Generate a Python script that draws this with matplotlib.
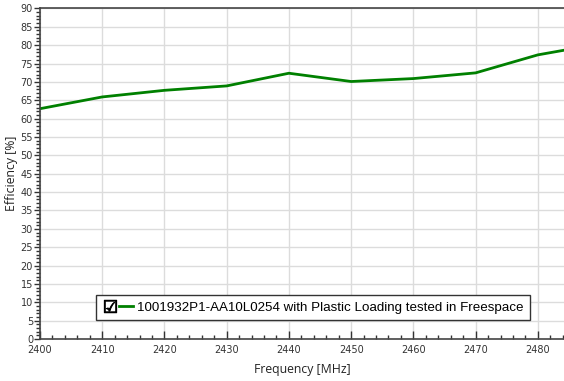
import matplotlib
matplotlib.use("Agg")
import matplotlib.pyplot as plt
from matplotlib.lines import Line2D
from matplotlib.legend_handler import HandlerTuple
from matplotlib.ticker import MultipleLocator

# efficiency vs frequency
freq = [2400, 2410, 2420, 2430, 2440, 2450, 2460, 2470, 2480, 2485]
eff = [62.7, 65.9, 67.7, 68.9, 72.35, 70.1, 70.9, 72.45, 77.35, 78.85]

series_name = "1001932P1-AA10L0254 with Plastic Loading tested in Freespace"

fig = plt.figure(figsize=(5.64, 3.81), dpi=100)
ax = fig.add_axes([0.0709, 0.110, 0.9291, 0.868])

line, = ax.plot(freq, eff, color="#008000", linewidth=2)

ax.set_xlim(2400, 2484.2)
ax.set_ylim(0, 90)

ax.xaxis.set_major_locator(MultipleLocator(10))
ax.xaxis.set_minor_locator(MultipleLocator(2))
ax.yaxis.set_major_locator(MultipleLocator(5))
ax.yaxis.set_minor_locator(MultipleLocator(1))

ax.tick_params(axis="x", which="major", direction="in", length=6, width=1,
               labelsize=7, pad=4, colors="#333333")
ax.tick_params(axis="x", which="minor", direction="in", length=3, width=1,
               colors="#333333")
ax.tick_params(axis="y", which="major", direction="out", length=4, width=1,
               labelsize=7, pad=1, colors="#333333")
ax.tick_params(axis="y", which="minor", direction="out", length=3, width=1,
               colors="#333333")
for lbl in ax.get_xticklabels() + ax.get_yticklabels():
    lbl.set_family(["Liberation Sans Narrow", "DejaVu Sans"])

ax.grid(True, which="major", color="#dcdcdc", linewidth=1)
ax.set_axisbelow(True)

for s in ["top", "left", "bottom"]:
    ax.spines[s].set_color("#444444")
    ax.spines[s].set_linewidth(1.2)
ax.spines["right"].set_visible(False)

ax.set_xlabel("Frequency [MHz]", fontsize=8.8, family="Open Sans",
              color="#222222", labelpad=6)
ax.set_ylabel("Efficiency [%]", fontsize=8.8, family="Open Sans",
              color="#222222", labelpad=2)

box = Line2D([0], [0], marker="$\u2611$", color="black", linestyle="none",
             markersize=9, markeredgewidth=0.7)
leg = ax.legend([(box, line)], [series_name],
                handler_map={tuple: HandlerTuple(ndivide=None, pad=0.15)},
                loc="lower left", bbox_to_anchor=(0.107, 0.057),
                borderaxespad=0, handlelength=2.3, handletextpad=0.25,
                fancybox=False, framealpha=1, edgecolor="#333333",
                prop={"family": "Liberation Sans", "size": 9.6},
                borderpad=0.5)
leg.get_frame().set_linewidth(1)

fig.savefig("out.png", dpi=100)
